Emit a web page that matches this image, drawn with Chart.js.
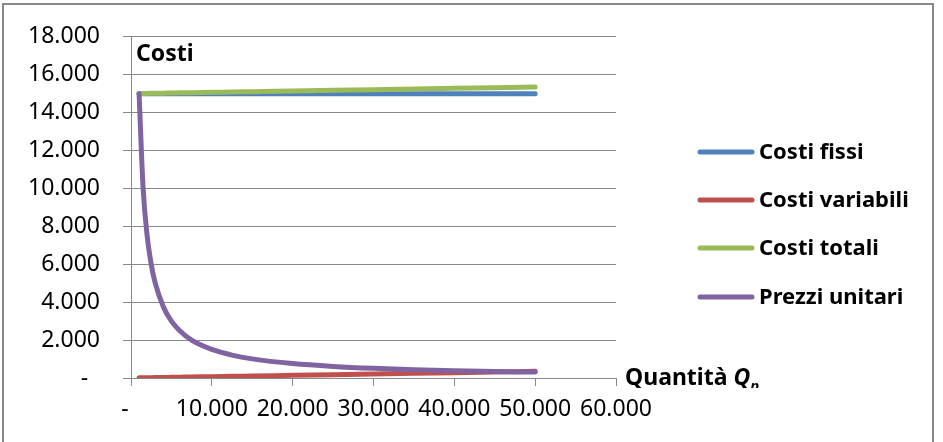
<!DOCTYPE html>
<html>
<head>
<meta charset="utf-8">
<script src="https://cdn.jsdelivr.net/npm/chart.js@4.4.1/dist/chart.umd.min.js"></script>
<style>
  body { margin: 0; background: #fff; }
  canvas { display: block; }
</style>
</head>
<body>
<canvas id="chart" width="943" height="442"></canvas>
<script>
// quantità prodotte
const Q = [1000, 1500, 2000, 2500, 3000, 4000, 5000, 6000, 7500, 10000, 12500, 15000, 20000, 25000, 30000, 35000, 40000, 45000, 50000];
const costiFissi = [15000, 15000, 15000, 15000, 15000, 15000, 15000, 15000, 15000, 15000, 15000, 15000, 15000, 15000, 15000, 15000, 15000, 15000, 15000];
const costiVariabili = [7, 11, 14, 18, 21, 28, 35, 42, 53, 70, 88, 105, 140, 175, 210, 245, 280, 315, 350];
const costiTotali = [15007, 15011, 15014, 15018, 15021, 15028, 15035, 15042, 15053, 15070, 15088, 15105, 15140, 15175, 15210, 15245, 15280, 15315, 15350];
const prezziUnitari = [15000, 10000, 7500, 6000, 5000, 3760, 3000, 2510, 2000, 1510, 1210, 1010, 760, 610, 510, 440, 380, 340, 310];
const serie = ['Costi fissi', 'Costi variabili', 'Costi totali', 'Prezzi unitari'];
const colori = ['#4F81BD', '#C0504D', '#9BBB59', '#8064A2'];

const FONT = '"Noto Sans", "Open Sans", sans-serif';

function fmt(v) {
    if (v === 0) return '-  ';
    return v.toString().replace(/\B(?=(\d{3})+(?!\d))/g, '.');
}

function punti(valori) {
    return Q.map(function (q, i) { return { x: q, y: valori[i] }; });
}

const valori = [costiFissi, costiVariabili, costiTotali, prezziUnitari];
const datasets = serie.map(function (nome, i) {
    return {
        label: nome,
        data: punti(valori[i]),
        borderColor: colori[i],
        backgroundColor: colori[i],
        borderWidth: 5,
        borderCapStyle: 'round',
        borderJoinStyle: 'round',
        pointRadius: 0,
        cubicInterpolationMode: 'monotone',
        order: 4 - i
    };
});

// cornice, titoli e legenda disegnati a mano
const extra = {
    id: 'extra',
    beforeDraw: function (chart) {
        const ctx = chart.ctx;
        ctx.save();
        ctx.fillStyle = '#fff';
        ctx.fillRect(0, 0, chart.width, chart.height);
        ctx.strokeStyle = '#888';
        ctx.lineWidth = 2;
        ctx.strokeRect(3, 4, 930, 470);
        ctx.restore();
    },
    afterDraw: function (chart) {
        const ctx = chart.ctx;
        const area = chart.chartArea;
        ctx.save();
        ctx.fillStyle = '#000';
        ctx.textBaseline = 'alphabetic';
        ctx.font = 'bold 23px ' + FONT;
        ctx.fillText('Costi', area.left + 5, 61);

        // etichetta asse x
        ctx.save();
        ctx.beginPath();
        ctx.rect(0, 0, chart.width, 388);
        ctx.clip();
        let x = area.right + 9;
        ctx.fillText('Quantità ', x, 385);
        x += ctx.measureText('Quantità ').width;
        ctx.font = 'italic bold 23px ' + FONT;
        ctx.fillText('Q', x, 385);
        x += ctx.measureText('Q').width;
        ctx.font = 'italic bold 15px ' + FONT;
        ctx.fillText('p', x, 391);
        ctx.restore();

        // legenda
        ctx.font = 'bold 22px ' + FONT;
        ctx.textBaseline = 'middle';
        const ys = [152, 200, 248, 297];
        chart.data.datasets.forEach(function (ds, i) {
            ctx.strokeStyle = ds.borderColor;
            ctx.lineWidth = 5;
            ctx.lineCap = 'round';
            ctx.beginPath();
            ctx.moveTo(700, ys[i]);
            ctx.lineTo(752, ys[i]);
            ctx.stroke();
            ctx.fillText(ds.label, 759, ys[i] + 1);
        });
        ctx.restore();
    }
};

new Chart(document.getElementById('chart'), {
    type: 'line',
    data: { datasets: datasets },
    options: {
        responsive: false,
        animation: false,
        devicePixelRatio: 1,
        layout: { padding: { left: 0, top: 34, right: 327, bottom: 14 } },
        plugins: {
            legend: { display: false },
            tooltip: { enabled: false }
        },
        scales: {
            x: {
                type: 'linear',
                min: 0,
                max: 60000,
                afterFit: function (s) { s.height = 50; },
                border: { color: '#888', width: 1 },
                grid: { drawOnChartArea: false, drawTicks: true, tickLength: 8, color: '#888' },
                ticks: {
                    stepSize: 10000,
                    autoSkip: false,
                    maxRotation: 0,
                    padding: 10,
                    color: '#000',
                    font: { family: FONT, size: 23 },
                    callback: function (v) { return fmt(v); }
                }
            },
            y: {
                min: 0,
                max: 18000,
                afterFit: function (s) { s.width = 131; },
                border: { color: '#888', width: 1 },
                grid: { color: '#888', tickLength: 8 },
                ticks: {
                    stepSize: 2000,
                    autoSkip: false,
                    padding: 23,
                    color: '#000',
                    font: { family: FONT, size: 23 },
                    callback: function (v) { return fmt(v); }
                }
            }
        }
    },
    plugins: [extra]
});
</script>
</body>
</html>
